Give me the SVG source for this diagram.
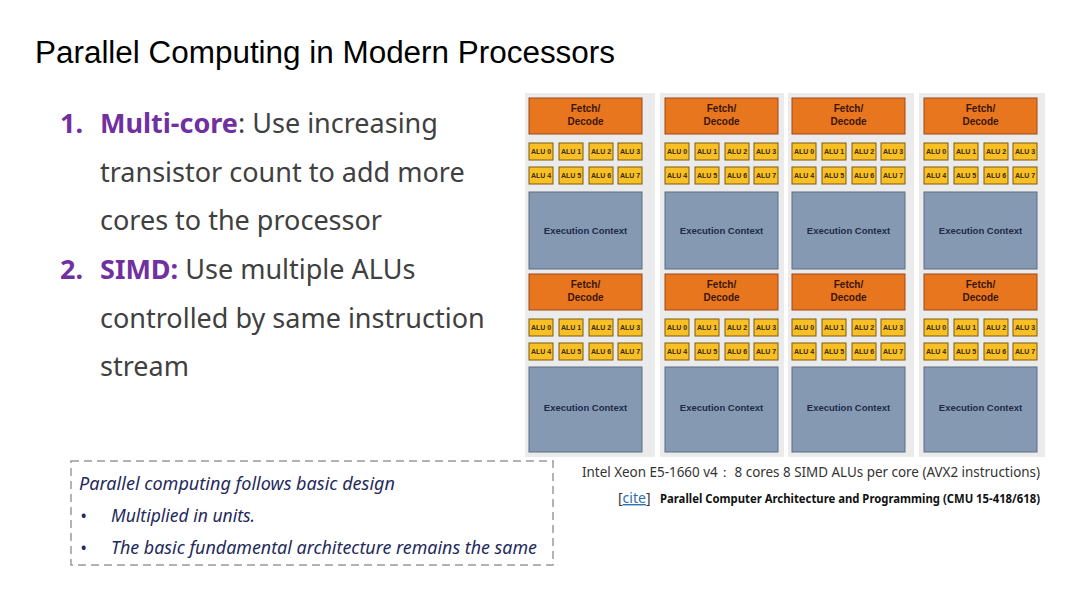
<svg xmlns="http://www.w3.org/2000/svg" xmlns:xlink="http://www.w3.org/1999/xlink" width="1080" height="608" viewBox="0 0 1080 608">
<style>
.title{font-family:"Liberation Sans",Arial,sans-serif;font-size:31px;fill:#000}
.li{font-family:"Noto Sans","Open Sans",sans-serif;font-size:27px;fill:#404040}
.pp{fill:#7030a0;font-weight:bold}
.note{font-family:"Noto Sans","Open Sans",sans-serif;font-size:17.5px;font-style:italic;fill:#1f2a5c}
.cap{font-family:"Noto Sans","Open Sans",sans-serif;font-size:14px;fill:#333}
.cite{font-family:"Noto Sans","Open Sans",sans-serif;font-size:12px;font-weight:bold;fill:#111}
.fetch{fill:#e8761f;stroke:#9a4a1a;stroke-width:1}
.alu{fill:#f8c024;stroke:#7a5a14;stroke-width:1}
.exec{fill:#8699b3;stroke:#5d6d85;stroke-width:1}
.ft{font-family:"Liberation Sans",Arial,sans-serif;font-size:10px;font-weight:bold;fill:#3a1505;text-anchor:middle}
.at{font-family:"Liberation Sans",Arial,sans-serif;font-size:7px;font-weight:bold;fill:#3a2a05;text-anchor:middle}
.et{font-family:"Liberation Sans",Arial,sans-serif;font-size:9.5px;font-weight:bold;fill:#1d2a48;text-anchor:middle}
</style>
<defs>
<g id="fa">
<rect class="fetch" x="0" y="0" width="113" height="36"/>
<text class="ft" x="56.5" y="14">Fetch/</text>
<text class="ft" x="56.5" y="27">Decode</text>
<rect class="alu" x="0" y="45" width="24" height="17"/>
<rect class="alu" x="30" y="45" width="24" height="17"/>
<rect class="alu" x="60" y="45" width="24" height="17"/>
<rect class="alu" x="89" y="45" width="24" height="17"/>
<rect class="alu" x="0" y="69" width="24" height="17"/>
<rect class="alu" x="30" y="69" width="24" height="17"/>
<rect class="alu" x="60" y="69" width="24" height="17"/>
<rect class="alu" x="89" y="69" width="24" height="17"/>
<text class="at" x="12" y="56">ALU 0</text>
<text class="at" x="42" y="56">ALU 1</text>
<text class="at" x="72" y="56">ALU 2</text>
<text class="at" x="101" y="56">ALU 3</text>
<text class="at" x="12" y="80">ALU 4</text>
<text class="at" x="42" y="80">ALU 5</text>
<text class="at" x="72" y="80">ALU 6</text>
<text class="at" x="101" y="80">ALU 7</text>
</g>
</defs>
<rect width="1080" height="608" fill="#ffffff"/>
<text class="title" x="35" y="63" textLength="580" lengthAdjust="spacingAndGlyphs">Parallel Computing in Modern Processors</text>
<g id="list">
<text class="li" x="60" y="133"><tspan class="pp">1.</tspan></text>
<text class="li" x="100" y="133"><tspan class="pp">Multi-core</tspan>: Use increasing</text>
<text class="li" x="100" y="182">transistor count to add more</text>
<text class="li" x="100" y="230">cores to the processor</text>
<text class="li" x="60" y="279"><tspan class="pp">2.</tspan></text>
<text class="li" x="100" y="279"><tspan class="pp">SIMD:</tspan> Use multiple ALUs</text>
<text class="li" x="100" y="328">controlled by same instruction</text>
<text class="li" x="100" y="376">stream</text>
</g>
<g id="note">
<rect x="71" y="461" width="482" height="104" fill="none" stroke="#9a9a9a" stroke-width="1.5" stroke-dasharray="8,5"/>
<text class="note" x="79" y="490" textLength="316" lengthAdjust="spacingAndGlyphs">Parallel computing follows basic design</text>
<text class="note" x="80" y="522" font-style="normal">•</text>
<text class="note" x="111" y="522">Multiplied in units.</text>
<text class="note" x="80" y="554" font-style="normal">•</text>
<text class="note" x="111" y="554" textLength="426" lengthAdjust="spacingAndGlyphs">The basic fundamental architecture remains the same</text>
</g>
<g id="chip">
<rect x="525" y="93" width="520" height="364" fill="#ebebeb"/>
<rect x="655" y="93" width="5" height="364" fill="#ffffff"/>
<rect x="784" y="93" width="4" height="364" fill="#ffffff"/>
<rect x="914" y="93" width="5" height="364" fill="#ffffff"/>
</g>
<g id="core-1" transform="translate(529,98)"><use href="#fa" xlink:href="#fa"/><rect class="exec" x="0" y="94" width="113" height="77"/><text class="et" x="56.5" y="136">Execution Context</text></g>
<g id="core-2" transform="translate(665,98)"><use href="#fa" xlink:href="#fa"/><rect class="exec" x="0" y="94" width="113" height="77"/><text class="et" x="56.5" y="136">Execution Context</text></g>
<g id="core-3" transform="translate(792,98)"><use href="#fa" xlink:href="#fa"/><rect class="exec" x="0" y="94" width="113" height="77"/><text class="et" x="56.5" y="136">Execution Context</text></g>
<g id="core-4" transform="translate(924,98)"><use href="#fa" xlink:href="#fa"/><rect class="exec" x="0" y="94" width="113" height="77"/><text class="et" x="56.5" y="136">Execution Context</text></g>
<g id="core-5" transform="translate(529,274)"><use href="#fa" xlink:href="#fa"/><rect class="exec" x="0" y="93" width="113" height="85"/><text class="et" x="56.5" y="137">Execution Context</text></g>
<g id="core-6" transform="translate(665,274)"><use href="#fa" xlink:href="#fa"/><rect class="exec" x="0" y="93" width="113" height="85"/><text class="et" x="56.5" y="137">Execution Context</text></g>
<g id="core-7" transform="translate(792,274)"><use href="#fa" xlink:href="#fa"/><rect class="exec" x="0" y="93" width="113" height="85"/><text class="et" x="56.5" y="137">Execution Context</text></g>
<g id="core-8" transform="translate(924,274)"><use href="#fa" xlink:href="#fa"/><rect class="exec" x="0" y="93" width="113" height="85"/><text class="et" x="56.5" y="137">Execution Context</text></g>
<g id="caption">
<text class="cap" x="582" y="477" textLength="458" lengthAdjust="spacingAndGlyphs">Intel Xeon E5-1660 v4：  8 cores 8 SIMD ALUs per core (AVX2 instructions)</text>
<text class="cap" x="618" y="503" font-size="16">[<tspan fill="#2f6fb5" text-decoration="underline">cite</tspan>]</text>
<text class="cite" x="660" y="503" textLength="380" lengthAdjust="spacingAndGlyphs">Parallel Computer Architecture and Programming (CMU 15-418/618)</text>
</g>
<g id="connectors"/>
</svg>
